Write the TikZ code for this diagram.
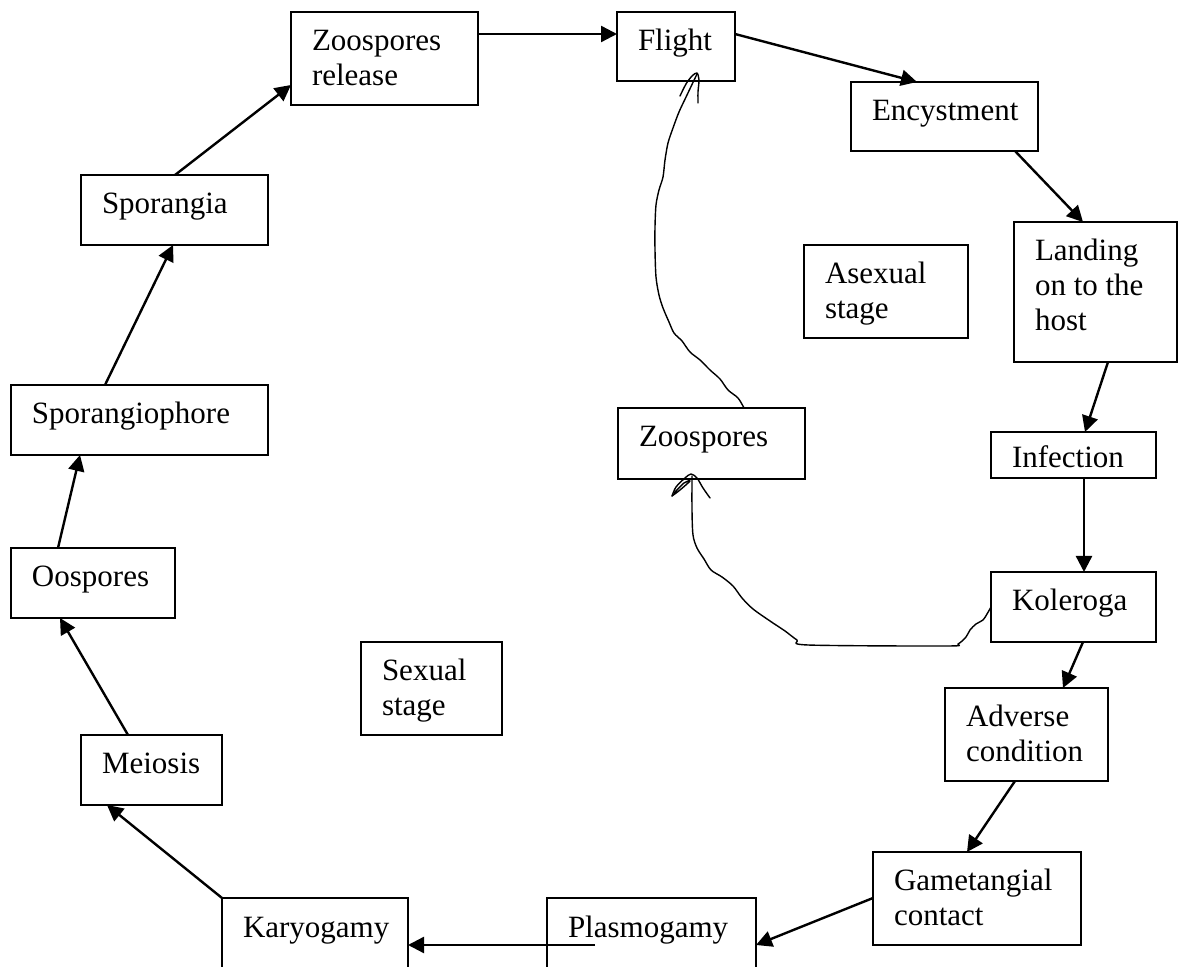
\documentclass[tikz,border=0pt]{standalone}
\usepackage{fontspec}
\setmainfont{Liberation Serif}
\usetikzlibrary{arrows.meta}
\hyphenpenalty=10000

\tikzset{
    box/.style={draw, line width=1pt, anchor=north west, align=flush left, inner xsep=10.5pt,
        inner ysep=0pt, outer sep=0pt, text height=19.5pt, font=\fontsize{15.5}{17.5}\selectfont},
    hand/.style={line width=0.7pt, line join=round, line cap=round},
}

\begin{document}
\begin{tikzpicture}[x=0.5pt, y=-0.5pt, line width=1.2pt, >={Triangle[length=8pt, width=8pt]}]
        \useasboundingbox (0, 0) rectangle (1179, 967);

        \node[box, text width=72.5pt, text depth=27pt] (zrel) at (291, 12) {Zoospores\\release};
        \node[box, text width=38pt, text depth=15pt] (flight) at (617, 12) {Flight};
        \node[box, text width=72.5pt, text depth=15pt] (ency) at (851, 82) {Encystment};
        \node[box, text width=60.5pt, text depth=50.5pt] (land) at (1014, 222) {Landing\\on to the\\host};
        \node[box, text width=61pt, text depth=27pt] (asex) at (804, 245) {Asexual\\stage};
        \node[box, text width=72.5pt, text depth=16pt] (zoo) at (618, 408) {Zoospores};
        \node[box, text width=61.5pt, text height=18pt, text depth=5pt] (infe) at (991, 432) {Infection};
        \node[box, text width=61.5pt, text depth=15.5pt] (kole) at (991, 572) {Koleroga};
        \node[box, text width=60.5pt, text depth=27pt] (adve) at (945, 688) {Adverse\\condition};
        \node[box, text width=83pt, text depth=27pt] (game) at (873, 852) {Gametangial\\contact};
        \node[box, text width=83.5pt, text depth=30.5pt] (plas) at (547, 898) {Plasmogamy};
        \node[box, text width=72pt, text depth=30.5pt] (kary) at (222, 898) {Karyogamy};
        \node[box, text width=49.5pt, text depth=27pt] (sexs) at (361, 642) {Sexual\\stage};
        \node[box, text width=49.5pt, text depth=15.5pt] (meio) at (81, 735) {Meiosis};
        \node[box, text width=61pt, text depth=15.5pt] (oosp) at (11, 548) {Oospores};
        \node[box, text width=107.5pt, text depth=15.5pt] (spph) at (11, 385) {Sporangiophore};
        \node[box, text width=72.5pt, text depth=15.5pt] (spor) at (81, 175) {Sporangia};

        \coordinate (plasin) at (595, 945);

        \draw[->] (zrel.east |- 0,34) -- (flight.west |- 0,34);
        \draw[->] (flight.east |- 0,34) -- (ency.north -| 917,0);
        \draw[->] (ency.south -| 1015,0) -- (land.north -| 1083,0);
        \draw[->] (land.south -| 1108,0) -- (infe.north -| 1085,0);
        \draw[->] (infe.south -| 1084,0) -- (kole.north -| 1084,0);
        \draw[->] (kole.south -| 1083,0) -- (adve.north -| 1063,0);
        \draw[->] (adve.south -| 1015,0) -- (game.north -| 967,0);
        \draw[->] (game.west |- 0,898) -- (plas.east |- 0,945);
        \draw[->] (plasin) -- (kary.east |- 0,945);
        \draw[->] (kary.north west) -- (meio.south -| 107,0);
        \draw[->] (meio.north -| 128,0) -- (oosp.south -| 60,0);
        \draw[->] (oosp.north -| 58,0) -- (spph.south -| 80,0);
        \draw[->] (spph.north -| 105,0) -- (spor.south -| 173,0);
        \draw[->] (spor.north -| 175,0) -- (zrel.west |- 0,85);

        % hand drawn loop back to flight
        \draw[hand] plot[smooth, tension=0.5] coordinates {(zoo.north -| 744,0) (738,398) (728,390)
            (720,379) (710,370) (700,360) (690,352) (682,341) (674,333) (669,322) (663,308)
            (659,295) (656,277) (655,250) (655,227) (656,205) (659,190) (663,177) (665,160)
            (668,143) (673,128) (679,112) (687,95) (697,74)};
        \draw[hand] plot[smooth, tension=0.5] coordinates {(680,96) (686,84) (692,76) (697,73)
            (699,80) (698,92) (698,103)};

        % hand drawn loop from koleroga
        \draw[hand] plot[smooth, tension=0.5] coordinates {(kole.west) (987,614) (983,620)
            (976,624) (970,630) (966,637) (958,644) (947,646) (808,645) (797,640) (785,631)
            (770,621) (753,609) (742,598) (733,586) (722,577) (711,570) (704,559) (697,548)
            (693,535) (692,510) (692,476)};
        \draw[hand] plot[smooth, tension=0.5] coordinates {(672,496) (676,487) (685,478)
            (691,474) (697,478) (703,488) (710,498)};
        \draw[hand] plot[smooth, tension=0.5] coordinates {(672,496) (680,490) (690,481)
            (684,483) (674,493)};

    \end{tikzpicture}
\end{document}
